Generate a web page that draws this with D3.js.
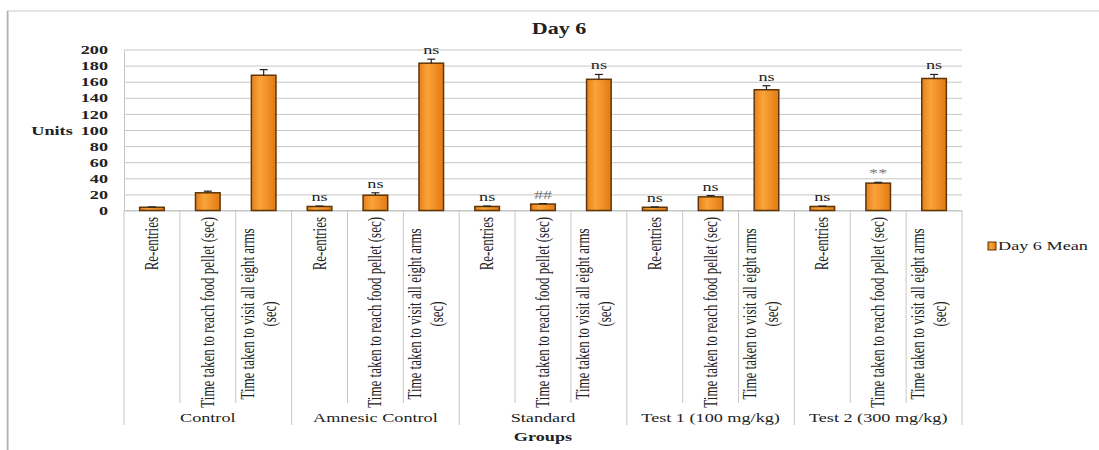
<!DOCTYPE html>
<html>
<head>
<meta charset="utf-8">
<script src="https://cdn.jsdelivr.net/npm/d3@7"></script>
<style>
  body { margin: 0; background: #fff; }
  svg { display: block; font-family: "Liberation Serif", "Times New Roman", serif; }
</style>
</head>
<body>
<div id="chart"></div>
<script>
// data
const groups = ["Control", "Amnesic Control", "Standard", "Test 1 (100 mg/kg)", "Test 2 (300 mg/kg)"];
const measures = ["Re-entries", "Time taken to reach food pellet (sec)", "Time taken to visit all eight arms (sec)"];
const meanValues = [4, 22, 168, 5, 19, 183, 5, 8, 163, 4, 17, 150, 5, 34, 164];
const errValues = [0.5, 2, 7, 0.5, 3, 5, 0.5, 0.5, 6, 0.5, 1.5, 5, 0.5, 1, 5];
const sigLabels = ["", "", "", "ns", "ns", "ns", "ns", "##", "ns", "ns", "ns", "ns", "ns", "**", "ns"];
const yTicks = [0, 20, 40, 60, 80, 100, 120, 140, 160, 180, 200];
const seriesName = "Day 6 Mean";

const W = 1099, H = 450;
const plot = {left: 124, right: 962, top: 49.5, bottom: 210.5};
const sx = 1.4; // the picture is stretched sideways

const rows = [];
groups.forEach((g, gi) => measures.forEach((m, mi) => {
    const i = gi * measures.length + mi;
    rows.push({key: g + "|" + m, group: g, measure: m, value: meanValues[i], err: errValues[i], sig: sigLabels[i]});
}));

const svg = d3.select("#chart").append("svg")
    .attr("width", W).attr("height", H);

const defs = svg.append("defs");
const grad = defs.append("linearGradient").attr("id", "barFill")
    .attr("x1", "0%").attr("x2", "100%").attr("y1", "0%").attr("y2", "0%");
grad.append("stop").attr("offset", "0%").attr("stop-color", "#e3801c");
grad.append("stop").attr("offset", "35%").attr("stop-color", "#fba43a");
grad.append("stop").attr("offset", "100%").attr("stop-color", "#e27a12");

// outer chart border
svg.append("rect")
    .attr("x", 8).attr("y", 11).attr("width", W + 10).attr("height", H + 10)
    .attr("fill", "none").attr("stroke", "#d4d4d4").attr("stroke-width", 1.2);
svg.append("line").attr("x1", 7.5).attr("x2", 7.5).attr("y1", 11).attr("y2", H)
    .attr("stroke", "#b0b0b0").attr("stroke-width", 1.5);

const x = d3.scaleBand().domain(rows.map(d => d.key)).range([plot.left, plot.right]);
const y = d3.scaleLinear().domain([0, 200]).range([plot.bottom, plot.top]);

// gridlines
svg.append("g")
    .attr("transform", `translate(${plot.left},0)`)
    .call(d3.axisLeft(y).tickValues(yTicks).tickSize(-(plot.right - plot.left)).tickFormat(""))
    .call(g => g.select(".domain").remove())
    .call(g => g.selectAll("line").attr("stroke", "#c6c6c6").attr("stroke-width", 1));

// y axis
const yAxis = svg.append("g")
    .attr("transform", `translate(${plot.left},0)`)
    .call(d3.axisLeft(y).tickValues(yTicks).tickSize(0));
yAxis.select(".domain").attr("stroke", "#c6c6c6");
yAxis.selectAll("text")
    .attr("x", 0)
    .attr("transform", `translate(-16,0) scale(${sx},1)`)
    .attr("text-anchor", "end")
    .style("font-family", "Liberation Serif")
    .style("font-size", "13px")
    .style("font-weight", "bold")
    .attr("fill", "#222");

// category and group separators under the axis
const step = x.step();
svg.append("line")
    .attr("x1", plot.left).attr("x2", plot.right)
    .attr("y1", plot.bottom).attr("y2", plot.bottom)
    .attr("stroke", "#c6c6c6");
svg.append("g").selectAll("line")
    .data(d3.range(rows.length + 1))
    .join("line")
    .attr("x1", i => plot.left + i * step)
    .attr("x2", i => plot.left + i * step)
    .attr("y1", plot.bottom)
    .attr("y2", i => i % measures.length === 0 ? 425 : 403)
    .attr("stroke", "#c6c6c6");

// category labels (rotated)
const catLabels = svg.append("g")
    .style("font-size", "13px").attr("fill", "#222");
rows.forEach(d => {
    const cx = x(d.key) + x.bandwidth() / 2;
    let lines = [d.measure];
    if (d.measure.length > 38) {
        const cut = d.measure.lastIndexOf(" ");
        lines = [d.measure.slice(0, cut), d.measure.slice(cut + 1)];
    }
    const offsets = lines.length === 1 ? [6] : [-10, 12];
    lines.forEach((t, li) => {
        catLabels.append("text")
            .attr("transform", `translate(${cx + offsets[li]},217) rotate(-90) scale(1,${sx})`)
            .attr("text-anchor", lines.length === 1 ? "end" : "middle")
            .attr("x", lines.length === 1 ? 0 : -97)
            .text(t);
    });
});

// group labels
svg.append("g").selectAll("text")
    .data(groups)
    .join("text")
    .attr("transform", (g, gi) => `translate(${plot.left + (gi + 0.5) * step * measures.length},422) scale(${sx},1)`)
    .attr("text-anchor", "middle")
    .style("font-size", "13px")
    .attr("fill", "#222")
    .text(g => g);

// bars
const barW = x.bandwidth() * 0.44;
svg.append("g").selectAll("rect")
    .data(rows)
    .join("rect")
    .attr("x", d => x(d.key) + (x.bandwidth() - barW) / 2)
    .attr("y", d => y(d.value))
    .attr("width", barW)
    .attr("height", d => y(0) - y(d.value))
    .attr("fill", "url(#barFill)")
    .attr("stroke", "#5e3608")
    .attr("stroke-width", 1.5);

// error bars
const eb = svg.append("g").attr("stroke", "#222").attr("stroke-width", 1.2);
eb.selectAll(".stem").data(rows).join("line").attr("class", "stem")
    .attr("x1", d => x(d.key) + x.bandwidth() / 2)
    .attr("x2", d => x(d.key) + x.bandwidth() / 2)
    .attr("y1", d => y(d.value))
    .attr("y2", d => y(d.value + d.err));
eb.selectAll(".cap").data(rows).join("line").attr("class", "cap")
    .attr("x1", d => x(d.key) + x.bandwidth() / 2 - 4)
    .attr("x2", d => x(d.key) + x.bandwidth() / 2 + 4)
    .attr("y1", d => y(d.value + d.err))
    .attr("y2", d => y(d.value + d.err));

// significance marks
svg.append("g").selectAll("text")
    .data(rows.filter(d => d.sig))
    .join("text")
    .attr("transform", d => `translate(${x(d.key) + x.bandwidth() / 2},${y(d.value + d.err) - 5}) scale(${sx},1)`)
    .attr("text-anchor", "middle")
    .style("font-size", "13px")
    .attr("fill", d => d.sig === "ns" ? "#222" : "#7a7a7a")
    .text(d => d.sig);

// title and axis titles
svg.append("text")
    .attr("transform", `translate(559,34) scale(1.3,1)`)
    .attr("text-anchor", "middle")
    .style("font-size", "17px").style("font-weight", "bold")
    .attr("fill", "#222")
    .text("Day 6");

svg.append("text")
    .attr("transform", `translate(52,135) scale(${sx},1)`)
    .attr("text-anchor", "middle")
    .style("font-size", "13px").style("font-weight", "bold")
    .attr("fill", "#222")
    .text("Units");

svg.append("text")
    .attr("transform", `translate(543,441) scale(${sx},1)`)
    .attr("text-anchor", "middle")
    .style("font-size", "13px").style("font-weight", "bold")
    .attr("fill", "#222")
    .text("Groups");

// legend
const legend = svg.append("g").attr("transform", "translate(988,242)");
legend.append("rect")
    .attr("width", 8).attr("height", 8)
    .attr("fill", "url(#barFill)").attr("stroke", "#5e3608").attr("stroke-width", 1);
legend.append("text")
    .attr("transform", `translate(10,8) scale(${sx},1)`)
    .style("font-size", "13px")
    .attr("fill", "#222")
    .text(seriesName);
</script>
</body>
</html>
